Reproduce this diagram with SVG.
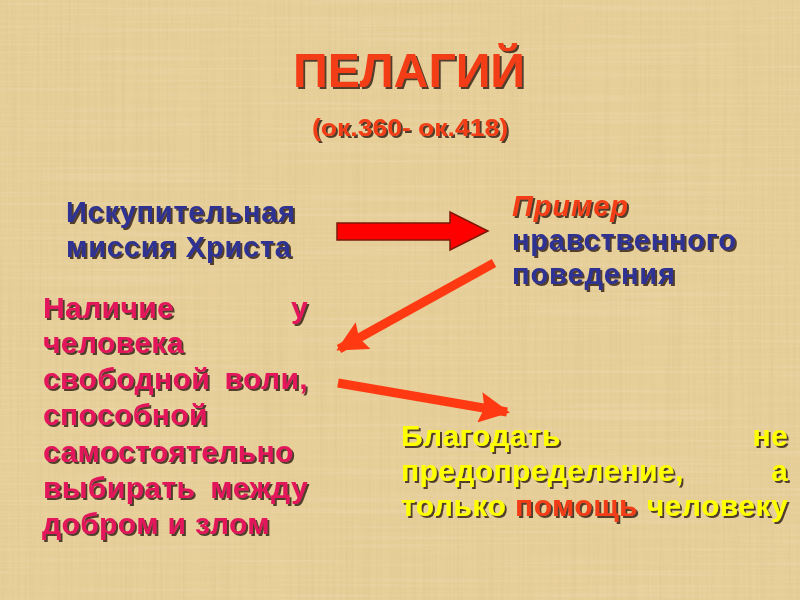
<svg xmlns="http://www.w3.org/2000/svg" width="800" height="600" viewBox="0 0 800 600">
<defs>
  <filter id="shadow" x="-10%" y="-20%" width="120%" height="150%">
    <feDropShadow dx="2" dy="2" stdDeviation="0.5" flood-color="#2a1a08" flood-opacity="0.8"/>
  </filter>
  <filter id="fibersV" x="0" y="0" width="100%" height="100%">
    <feTurbulence type="fractalNoise" baseFrequency="0.35 0.004" numOctaves="2" seed="3" result="n"/>
    <feColorMatrix type="matrix" values="0 0 0 0 0.55  0 0 0 0 0.42  0 0 0 0 0.2  0 0 0 1.1 -0.45"/>
  </filter>
  <filter id="fibersH" x="0" y="0" width="100%" height="100%">
    <feTurbulence type="fractalNoise" baseFrequency="0.004 0.35" numOctaves="2" seed="7" result="n"/>
    <feColorMatrix type="matrix" values="0 0 0 0 1  0 0 0 0 0.95  0 0 0 0 0.85  0 0 0 1.1 -0.5"/>
  </filter>
  <marker id="head" viewBox="0 0 10 10" refX="9" refY="5" markerWidth="3.4" markerHeight="3.4" markerUnits="strokeWidth" orient="auto">
    <path d="M0,0 L10,5 L0,10 L1.5,5 z" fill="#FF3A12"/>
  </marker>
</defs>
<style>
  text { font-family: "Liberation Sans", Arial, sans-serif; font-weight: bold; }
  .title { fill: #F23E18; font-size: 49px; filter: url(#shadow); }
  .sub { fill: #F23E18; font-size: 23px; filter: url(#shadow); }
  .blue { fill: #2E3192; font-size: 29px; filter: url(#shadow); }
  .redi { fill: #F23E18; font-style: italic; }
  .mag { fill: #E3175C; font-size: 30px; letter-spacing: 0.4px; filter: url(#shadow); }
  .yel { fill: #FFFF00; font-size: 30px; letter-spacing: 0.4px; filter: url(#shadow); }
  .redw { fill: #F23E18; }
  .conn { stroke: #FF3A12; stroke-width: 9; fill: none; marker-end: url(#head); }
</style>
<rect width="800" height="600" fill="#E7CF99"/>
<rect width="800" height="600" filter="url(#fibersV)" opacity="0.3"/>
<rect width="800" height="600" filter="url(#fibersH)" opacity="0.3"/>

<g id="title">
  <text class="title" x="409" y="87" text-anchor="middle" textLength="232" lengthAdjust="spacingAndGlyphs">ПЕЛАГИЙ</text>
  <text class="sub" x="410" y="136" text-anchor="middle" textLength="196" lengthAdjust="spacingAndGlyphs">(ок.360- ок.418)</text>
</g>

<g id="node-mission">
  <text class="blue" x="66" y="222" textLength="229" lengthAdjust="spacing">Искупительная</text>
  <text class="blue" x="66" y="257" textLength="225" lengthAdjust="spacing">миссия Христа</text>
</g>

<g id="node-example">
  <text class="blue redi" x="512" y="216" textLength="116" lengthAdjust="spacing">Пример</text>
  <text class="blue" x="512" y="250" textLength="224" lengthAdjust="spacing">нравственного</text>
  <text class="blue" x="512" y="284" textLength="163" lengthAdjust="spacing">поведения</text>
</g>

<g id="node-freewill">
  <text class="mag" y="318"><tspan x="43">Наличие</tspan><tspan x="308" text-anchor="end">у</tspan></text>
  <text class="mag" x="43" y="353">человека</text>
  <text class="mag" y="389"><tspan x="43">свободной</tspan><tspan x="308" text-anchor="end">воли,</tspan></text>
  <text class="mag" x="43" y="425">способной</text>
  <text class="mag" x="43" y="462">самостоятельно</text>
  <text class="mag" y="498"><tspan x="43">выбирать</tspan><tspan x="308" text-anchor="end">между</tspan></text>
  <text class="mag" x="42" y="534">добром и злом</text>
</g>

<g id="node-grace">
  <text class="yel" y="446"><tspan x="401">Благодать</tspan><tspan x="788" text-anchor="end">не</tspan></text>
  <text class="yel" y="481"><tspan x="401">предопределение,</tspan><tspan x="788" text-anchor="end">а</tspan></text>
  <text class="yel" x="401" y="516" textLength="387" lengthAdjust="spacing">только <tspan class="redw">помощь</tspan> человеку</text>
</g>

<g id="connectors">
  <path d="M337,223 H450 V212 L488,231 L450,250 V240 H337 Z" fill="#FF0000" stroke="#7A1A08" stroke-width="1.5"/>
  <line class="conn" x1="494" y1="263" x2="339" y2="349"/>
  <line class="conn" x1="338" y1="383" x2="507" y2="412"/>
</g>
</svg>
